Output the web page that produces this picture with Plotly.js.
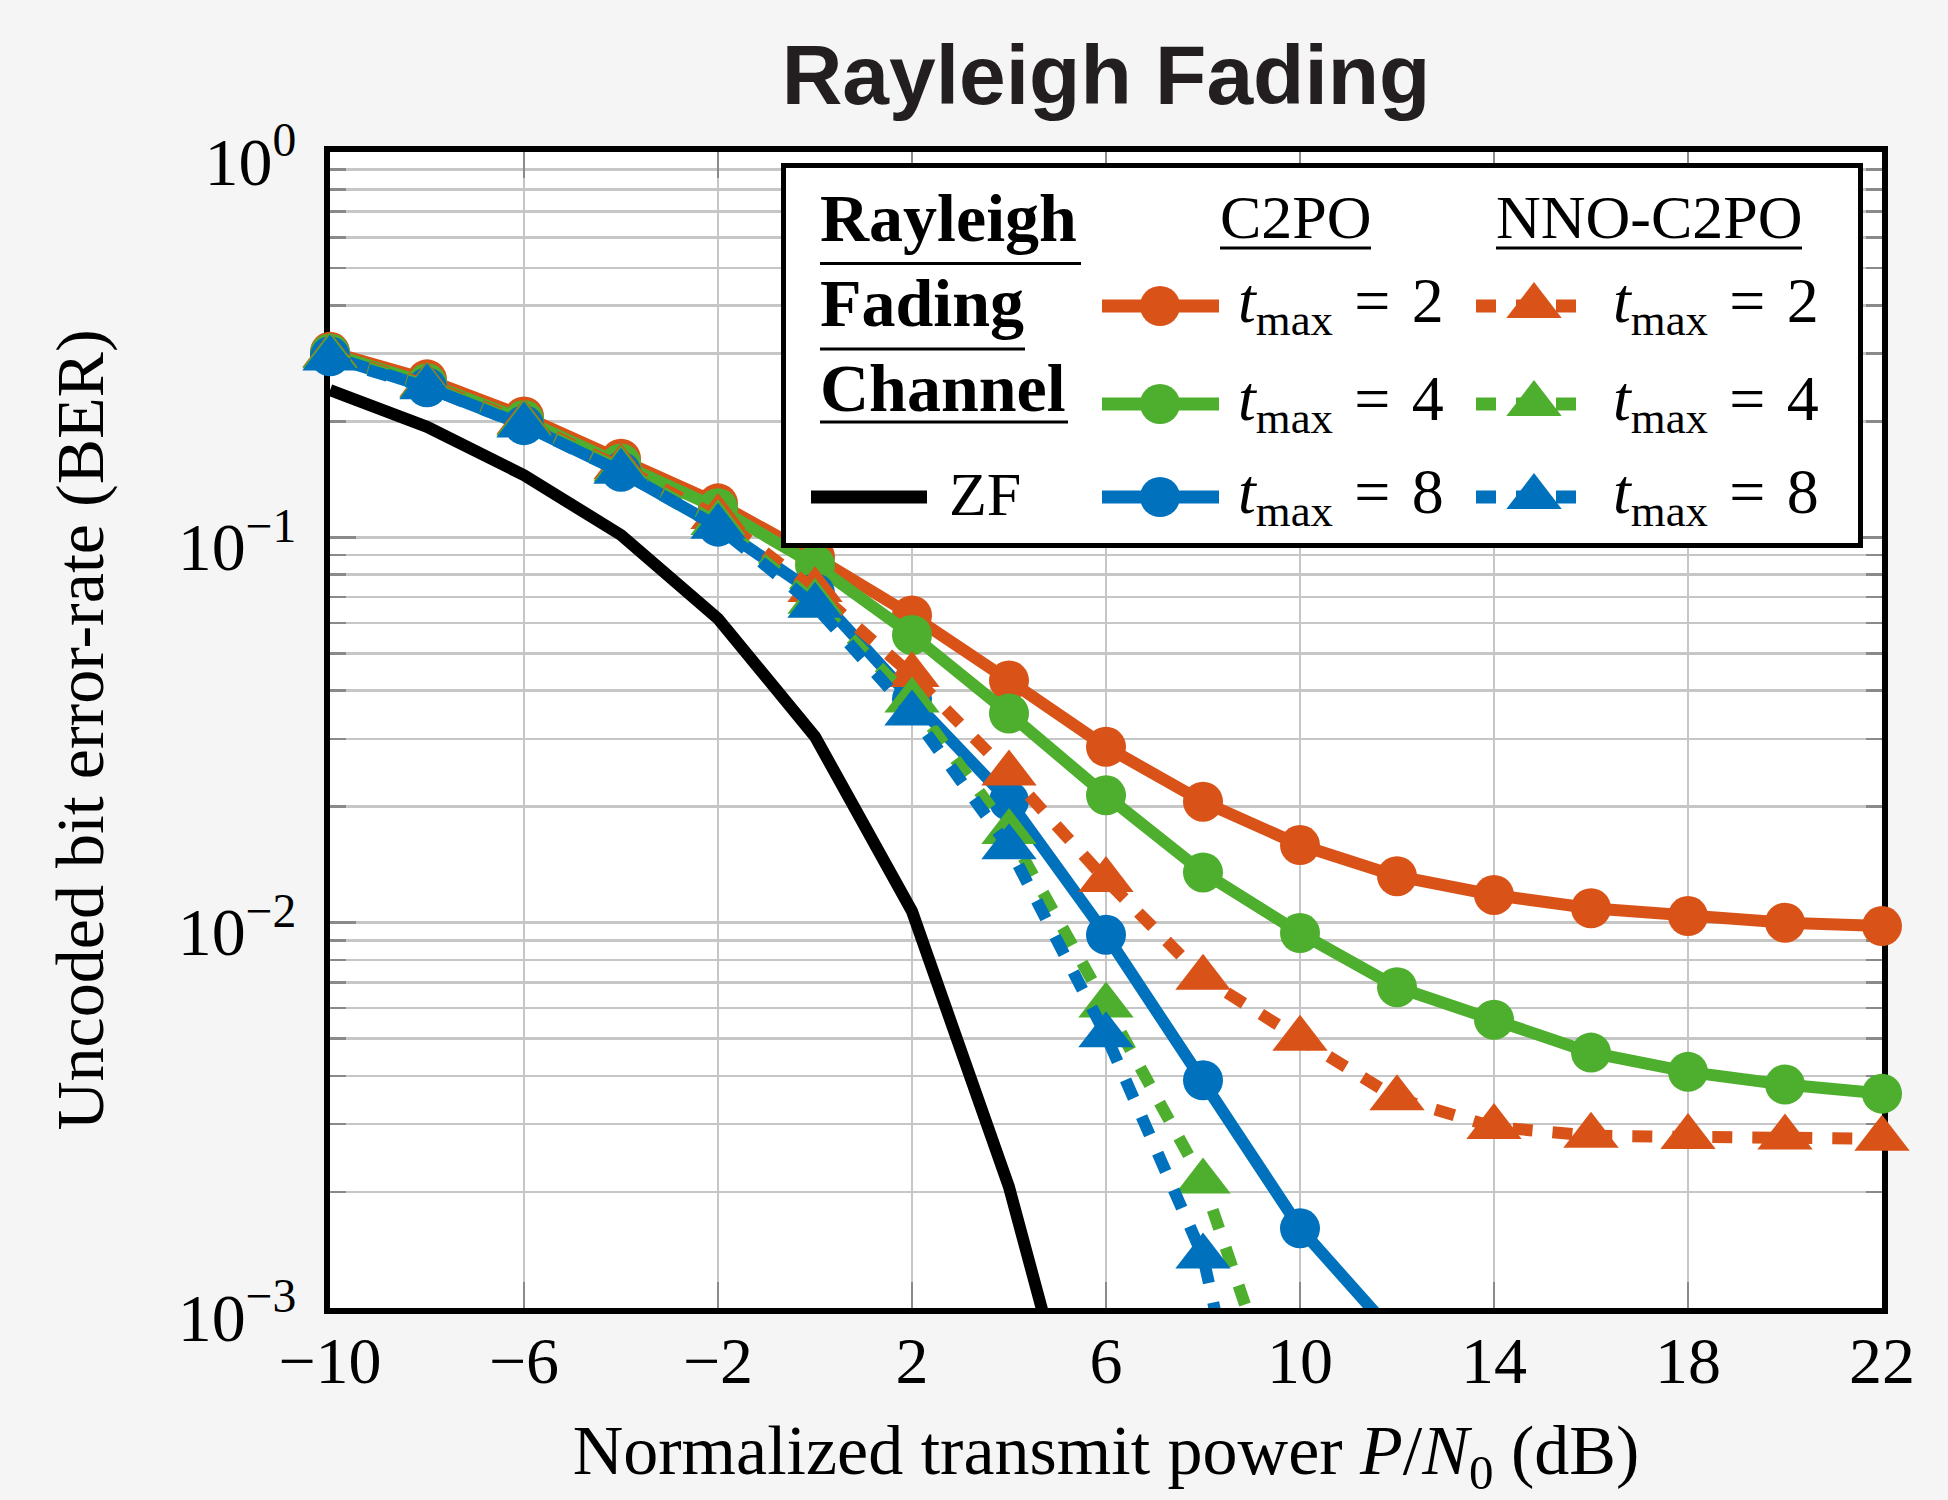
<!DOCTYPE html>
<html>
<head>
<meta charset="utf-8">
<script src="https://cdn.plot.ly/plotly-3.0.1.min.js"></script>
<style>html,body{margin:0;padding:0;background:#f5f5f5;}</style>
</head>
<body>
<div id="chart" style="width:1948px;height:1500px;"></div>
<script>
// ---------------- data ----------------
const snrDb = [-10, -8, -6, -4, -2, 0, 2, 4, 6, 8, 10, 12, 14, 16, 18, 20, 22];
const xTickVals = [-10, -6, -2, 2, 6, 10, 14, 18, 22];
const yMajorVals = [0.001, 0.01, 0.1, 1];
const yMajorText = ['10<sup>\u22123</sup>', '10<sup>\u22122</sup>', '10<sup>\u22121</sup>', '10<sup>0</sup>'];
const yMinorVals = [0.002,0.003,0.004,0.005,0.006,0.007,0.008,0.009,
                    0.02,0.03,0.04,0.05,0.06,0.07,0.08,0.09,
                    0.2,0.3,0.4,0.5,0.6,0.7,0.8,0.9];

const berZF        = [0.241, 0.1936, 0.145, 0.1014, 0.0615, 0.0304, 0.0107, 0.00206, 0.00024];
const berC2PO_t2   = [0.303, 0.257, 0.206, 0.160, 0.1225, 0.089, 0.0627, 0.0425, 0.0286, 0.0206, 0.0159, 0.0132, 0.0118, 0.0109, 0.0104, 0.0100, 0.0098];
const berC2PO_t4   = [0.300, 0.251, 0.2015, 0.1555, 0.119, 0.0848, 0.0558, 0.0349, 0.0214, 0.0135, 0.0094, 0.0068, 0.0056, 0.0046, 0.0041, 0.0038, 0.0036];
const berC2PO_t8   = [0.295, 0.245, 0.1955, 0.148, 0.1066, 0.0716, 0.038, 0.0207, 0.0093, 0.0039, 0.00161, 0.00084];
const berNNO_t2    = [0.297, 0.249, 0.199, 0.152, 0.113, 0.073, 0.0439, 0.0244, 0.0129, 0.0072, 0.0050, 0.0035, 0.00295, 0.0028, 0.00278, 0.00277, 0.00275];
const berNNO_t4    = [0.295, 0.247, 0.197, 0.150, 0.109, 0.068, 0.0377, 0.0172, 0.0061, 0.00213, 0.00039];
const berNNO_t8    = [0.291, 0.245, 0.195, 0.148, 0.1066, 0.0664, 0.0349, 0.0157, 0.0051, 0.00136, 0.0001];

const legendHeaders = ['Rayleigh', 'Fading', 'Channel'];
const legendColumns = ['C2PO', 'NNO-C2PO'];
const tmaxValues = [2, 4, 8];

// ---------------- styles ----------------
const ORANGE = '#D95319', GREEN = '#4DAF2D', BLUE = '#0072BD';
const colors = [ORANGE, GREEN, BLUE];
const SERIF = 'Liberation Serif, Times New Roman, serif';
const LW = 12, CIRC = 40, TRI = 48, DOTDASH = '20px,20px';

function xs(arr) { return snrDb.slice(0, arr.length); }

const traces = [
  {x: xs(berZF), y: berZF, mode: 'lines', name: 'ZF', line: {color: 'black', width: LW}},
];
[berC2PO_t2, berC2PO_t4, berC2PO_t8].forEach((s, i) => traces.push({
  x: xs(s), y: s, mode: 'lines+markers', name: 'C2PO t' + tmaxValues[i],
  line: {color: colors[i], width: LW},
  marker: {symbol: 'circle', size: CIRC, color: colors[i]}, cliponaxis: false
}));
[berNNO_t2, berNNO_t4, berNNO_t8].forEach((s, i) => traces.push({
  x: xs(s), y: s, mode: 'lines+markers', name: 'NNO-C2PO t' + tmaxValues[i],
  line: {color: colors[i], width: LW, dash: DOTDASH},
  marker: {symbol: 'triangle-up', size: TRI, color: colors[i]}, cliponaxis: false
}));

// ---------------- custom legend (pixel layout -> paper coords) ----------------
const PL = 330, PR = 1882, PT = 152, PB = 1308;
const px = v => (v - PL) / (PR - PL);
const py = v => (PB - v) / (PB - PT);

const shapes = [];
const annotations = [];
// box
shapes.push({type: 'rect', xref: 'paper', yref: 'paper', x0: px(783.5), x1: px(1860.5), y0: py(545.5), y1: py(165.5),
  fillcolor: 'white', line: {color: 'black', width: 5}, layer: 'above'});
// column 1 headers
const hdrY = [218, 303, 388], hdrUl = [[1081, 263.5], [1025, 349], [1068, 422]];
legendHeaders.forEach((t, i) => {
  annotations.push({xref: 'paper', yref: 'paper', x: px(818), y: py(hdrY[i]), xanchor: 'left', yanchor: 'middle',
    text: '<b>' + t + '</b>', showarrow: false, font: {family: SERIF, size: 68, color: 'black'}});
  shapes.push({type: 'line', xref: 'paper', yref: 'paper', x0: px(820), x1: px(hdrUl[i][0]), y0: py(hdrUl[i][1]), y1: py(hdrUl[i][1]),
    line: {color: 'black', width: 3}, layer: 'above'});
});
// column headers
const colCenter = [1295.7, 1649], colUl = [[1220, 1371], [1496, 1802]];
legendColumns.forEach((t, i) => {
  annotations.push({xref: 'paper', yref: 'paper', x: px(colCenter[i]), y: py(217), xanchor: 'center', yanchor: 'middle',
    text: t, showarrow: false, font: {family: SERIF, size: 62, color: 'black'}});
  shapes.push({type: 'line', xref: 'paper', yref: 'paper', x0: px(colUl[i][0]), x1: px(colUl[i][1]), y0: py(248), y1: py(248),
    line: {color: 'black', width: 3}, layer: 'above'});
});
// ZF entry
shapes.push({type: 'line', xref: 'paper', yref: 'paper', x0: px(811), x1: px(927), y0: py(497), y1: py(497),
  line: {color: 'black', width: 13}, layer: 'above'});
annotations.push({xref: 'paper', yref: 'paper', x: px(947), y: py(494), xanchor: 'left', yanchor: 'middle',
  text: 'ZF', showarrow: false, font: {family: SERIF, size: 62, color: 'black'}});
// series entries
const rowY = [306, 404, 497];
const r = TRI / 2, rt = r * 2 / Math.sqrt(3);
const triPath = 'M' + (-rt) + ',' + (-r / 2) + ' L' + rt + ',' + (-r / 2) + ' L0,' + r + ' Z';
tmaxValues.forEach((tm, i) => {
  const yy = rowY[i];
  const lbl = '<i>t</i><sub>max</sub>\u2004=\u2004' + tm;
  // C2PO: solid line + circle
  shapes.push({type: 'line', xref: 'paper', yref: 'paper', x0: px(1102), x1: px(1219), y0: py(yy), y1: py(yy),
    line: {color: colors[i], width: 13}, layer: 'above'});
  shapes.push({type: 'circle', xref: 'paper', yref: 'paper', xsizemode: 'pixel', ysizemode: 'pixel',
    xanchor: px(1160), yanchor: py(yy), x0: -CIRC / 2, x1: CIRC / 2, y0: -CIRC / 2, y1: CIRC / 2,
    fillcolor: colors[i], line: {width: 0}, layer: 'above'});
  annotations.push({xref: 'paper', yref: 'paper', x: px(1236), y: py(yy - 1), xanchor: 'left', yanchor: 'middle',
    text: lbl, showarrow: false, font: {family: SERIF, size: 64, color: 'black'}});
  // NNO-C2PO: dotted line + triangle
  shapes.push({type: 'line', xref: 'paper', yref: 'paper', x0: px(1476), x1: px(1579), y0: py(yy), y1: py(yy),
    line: {color: colors[i], width: 13, dash: DOTDASH}, layer: 'above'});
  shapes.push({type: 'path', xref: 'paper', yref: 'paper', xsizemode: 'pixel', ysizemode: 'pixel',
    xanchor: px(1534), yanchor: py(yy), path: triPath,
    fillcolor: colors[i], line: {width: 0}, layer: 'above'});
  annotations.push({xref: 'paper', yref: 'paper', x: px(1611), y: py(yy - 1), xanchor: 'left', yanchor: 'middle',
    text: lbl, showarrow: false, font: {family: SERIF, size: 64, color: 'black'}});
});

const GRID = '#c6c6c6', TICKC = '#8a8a8a';
const layout = {
  width: 1948, height: 1500,
  paper_bgcolor: '#f5f5f5', plot_bgcolor: 'white',
  margin: {l: PL, r: 1948 - PR, t: PT, b: 1500 - PB, autoexpand: false},
  showlegend: false,
  title: {text: '<b>Rayleigh Fading</b>', x: 0.5, xref: 'paper', xanchor: 'center', y: 1 - 75 / 1500, yref: 'container', yanchor: 'middle',
    font: {family: 'Liberation Sans, Arial, sans-serif', size: 84, color: '#231f20'}},
  xaxis: {
    range: [-10, 22], tickmode: 'array', tickvals: xTickVals,
    ticks: 'inside', ticklen: 26, tickwidth: 2.5, tickcolor: TICKC,
    showline: true, linewidth: 6, linecolor: 'black', mirror: 'ticks',
    showgrid: true, gridcolor: GRID, gridwidth: 2.5, zeroline: false, layer: 'below traces',
    tickfont: {family: SERIF, size: 66, color: 'black'}, ticklabelstandoff: -10,
    title: {text: 'Normalized transmit power <i>P</i>/<i>N</i><sub>0</sub> (dB)', font: {family: SERIF, size: 70, color: 'black'}, standoff: 54}
  },
  yaxis: {
    type: 'log', range: [-3, 0], tickmode: 'array', tickvals: yMajorVals, ticktext: yMajorText,
    ticks: 'inside', ticklen: 26, tickwidth: 2.5, tickcolor: TICKC,
    minor: {tickmode: 'array', tickvals: yMinorVals, ticks: 'inside', ticklen: 16, tickwidth: 2.5, tickcolor: TICKC,
      showgrid: true, gridcolor: GRID, gridwidth: 2.5},
    showline: true, linewidth: 6, linecolor: 'black', mirror: 'ticks',
    showgrid: true, gridcolor: GRID, gridwidth: 2.5, zeroline: false, layer: 'below traces',
    tickfont: {family: SERIF, size: 68, color: 'black'}, ticklabelstandoff: 14, ticklabelshift: 9,
    title: {text: 'Uncoded bit error-rate (BER)', font: {family: SERIF, size: 68, color: 'black'}, standoff: 54}
  },
  shapes: shapes,
  annotations: annotations
};

Plotly.newPlot('chart', traces, layout, {displayModeBar: false, staticPlot: true});
</script>
</body>
</html>
